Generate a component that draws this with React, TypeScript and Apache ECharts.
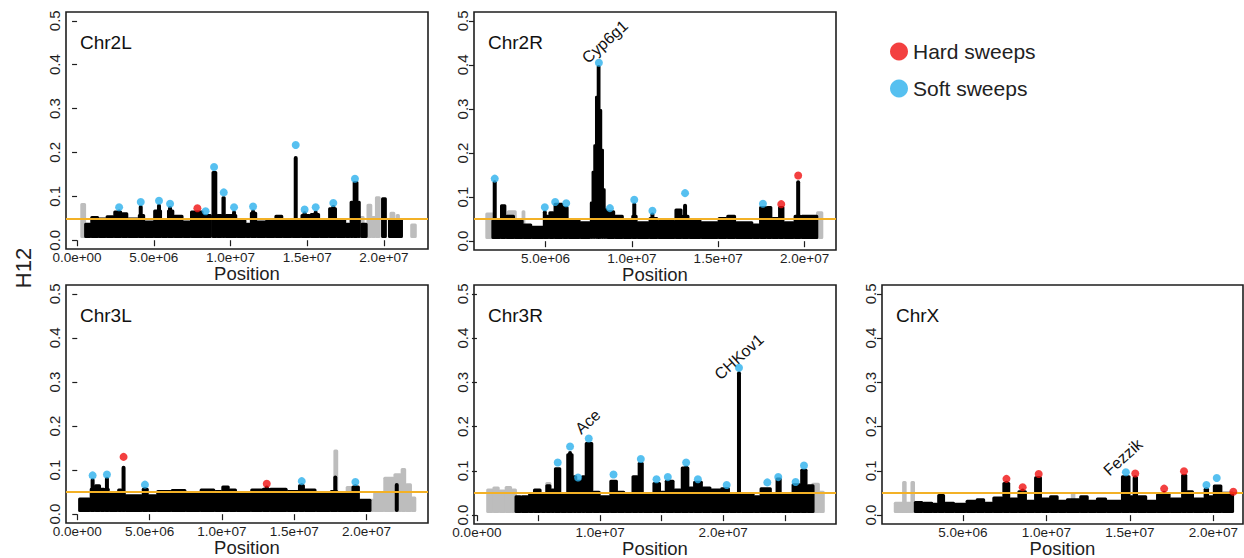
import React, { useEffect, useRef } from "react";
import * as echarts from "echarts";

type Seg = [number, number, number]; // start (Mb), end (Mb), top H12
type Pt = [number, number]; // position (Mb), H12

const H12_FLOOR = 0.005;
const THRESHOLD = 0.05;
const Y_TICKS = [0, 0.1, 0.2, 0.3, 0.4, 0.5];
const LEGEND_NAMES = ["Hard sweeps", "Soft sweeps"];

// ---------- Chr2L ----------
const CHR2L_BLACK: Seg[] = [
  [0.5, 0.9, 0.04], [0.9, 1.4, 0.055], [1.4, 1.9, 0.052], [1.9, 2.4, 0.057], [2.4, 2.9, 0.068],
  [2.9, 3.3, 0.064], [3.3, 4.0, 0.052], [4.0, 4.4, 0.06], [4.4, 5.0, 0.045], [5.0, 5.5, 0.07],
  [5.5, 5.9, 0.05], [5.9, 6.3, 0.07], [6.3, 6.9, 0.058], [6.9, 7.4, 0.045], [7.4, 8.2, 0.068],
  [8.2, 8.75, 0.06], [8.8, 9.1, 0.158], [9.1, 9.45, 0.06], [9.45, 9.65, 0.1], [9.65, 10.4, 0.06],
  [10.4, 11.0, 0.048], [11.0, 11.3, 0.04], [11.3, 11.7, 0.065], [11.7, 12.3, 0.045], [12.3, 12.9, 0.05],
  [12.9, 13.4, 0.058], [13.4, 14.0, 0.05], [14.0, 14.6, 0.05], [14.6, 15.2, 0.06], [15.2, 15.8, 0.062],
  [15.8, 16.4, 0.05], [16.4, 16.9, 0.075], [16.9, 17.5, 0.05], [17.5, 17.8, 0.04], [17.8, 18.0, 0.09],
  [18.0, 18.3, 0.135], [18.3, 18.45, 0.09], [18.5, 18.9, 0.04], [19.85, 20.15, 0.098], [20.3, 21.2, 0.05],
];
const CHR2L_GREY: Seg[] = [
  [0.25, 0.55, 0.085], [18.4, 18.7, 0.055], [18.9, 19.2, 0.083], [19.2, 19.45, 0.055], [19.45, 19.75, 0.1],
  [20.4, 20.7, 0.065], [20.8, 21.0, 0.06], [21.75, 22.1, 0.038],
];
const CHR2L_SPIKES: Pt[] = [
  [2.74, 0.07], [4.15, 0.08], [5.34, 0.083], [6.06, 0.078], [10.23, 0.068], [11.47, 0.07],
  [14.25, 0.192], [14.83, 0.066], [15.55, 0.068], [16.7, 0.08],
];
const CHR2L_HARD: Pt[] = [[7.84, 0.073]];
const CHR2L_SOFT: Pt[] = [
  [2.74, 0.075], [4.15, 0.087], [5.34, 0.09], [6.06, 0.083], [8.38, 0.066], [8.93, 0.167], [9.56, 0.109],
  [10.23, 0.075], [11.47, 0.077], [14.25, 0.217], [14.83, 0.07], [15.55, 0.075], [16.7, 0.085], [18.11, 0.14],
];

// ---------- Chr2R ----------
const CHR2R_BLACK: Seg[] = [
  [1.9, 2.4, 0.05], [2.4, 2.7, 0.084], [2.7, 3.2, 0.06], [3.2, 3.7, 0.05], [3.7, 4.2, 0.04],
  [4.2, 4.9, 0.035], [4.9, 5.2, 0.06], [5.2, 5.5, 0.068], [5.5, 6.0, 0.087], [6.0, 6.3, 0.08],
  [6.3, 7.0, 0.05], [7.0, 7.6, 0.045], [7.6, 7.7, 0.09], [7.7, 7.8, 0.16], [7.8, 7.9, 0.22],
  [7.9, 8.0, 0.33], [8.0, 8.15, 0.4], [8.15, 8.25, 0.3], [8.25, 8.35, 0.21], [8.35, 8.45, 0.12],
  [8.45, 8.55, 0.075], [8.55, 9.0, 0.07], [9.0, 9.5, 0.06], [9.5, 10.0, 0.05], [10.0, 10.3, 0.06],
  [10.3, 11.0, 0.045], [11.0, 11.5, 0.055], [11.5, 12.5, 0.048], [12.5, 12.9, 0.074], [12.9, 13.3, 0.06],
  [13.3, 14.0, 0.05], [14.0, 15.0, 0.045], [15.0, 15.5, 0.055], [15.5, 16.0, 0.06], [16.0, 17.0, 0.045],
  [17.0, 17.4, 0.04], [17.4, 17.8, 0.08], [17.8, 18.1, 0.08], [18.1, 18.5, 0.055], [18.5, 18.8, 0.08],
  [18.8, 19.4, 0.045], [19.4, 19.8, 0.06], [19.8, 20.76, 0.06],
];
const CHR2R_GREY: Seg[] = [[1.55, 2.05, 0.065], [2.8, 3.3, 0.07], [3.65, 3.8, 0.07], [20.7, 21.05, 0.068]];
const CHR2R_SPIKES: Pt[] = [
  [2.06, 0.138], [4.96, 0.07], [6.2, 0.08], [10.14, 0.088], [11.19, 0.065], [13.08, 0.085],
  [17.59, 0.08], [18.65, 0.078], [19.63, 0.138],
];
const CHR2R_HARD: Pt[] = [[18.65, 0.084], [19.63, 0.149]];
const CHR2R_SOFT: Pt[] = [
  [2.06, 0.142], [4.96, 0.077], [5.56, 0.089], [6.2, 0.086], [8.09, 0.405], [8.73, 0.075],
  [10.14, 0.094], [11.19, 0.069], [13.08, 0.109], [17.59, 0.085],
];

// ---------- Chr3L ----------
const CHR3L_BLACK: Seg[] = [
  [0.1, 0.9, 0.038], [0.9, 1.2, 0.06], [1.2, 1.6, 0.068], [1.6, 1.9, 0.06], [1.9, 2.2, 0.06],
  [2.2, 2.8, 0.05], [2.8, 3.1, 0.058], [3.1, 3.3, 0.05], [3.3, 4.5, 0.045], [4.5, 4.9, 0.06],
  [4.9, 5.5, 0.045], [5.5, 6.5, 0.055], [6.5, 7.5, 0.057], [7.5, 8.5, 0.05], [8.5, 9.5, 0.058],
  [9.5, 10.0, 0.055], [10.0, 10.5, 0.065], [10.5, 11.0, 0.058], [11.0, 12.0, 0.05], [12.0, 12.8, 0.058],
  [12.8, 13.3, 0.06], [13.3, 14.5, 0.06], [14.5, 15.3, 0.055], [15.3, 15.7, 0.068], [15.7, 16.5, 0.058],
  [16.5, 17.5, 0.05], [17.5, 18.0, 0.055], [18.0, 19.0, 0.05], [19.0, 19.5, 0.065], [19.5, 20.3, 0.035],
];
const CHR3L_GREY: Seg[] = [
  [17.75, 18.0, 0.147], [18.6, 19.3, 0.064], [20.2, 20.5, 0.035], [20.5, 21.2, 0.05], [21.2, 21.9, 0.085],
  [21.9, 22.4, 0.093], [22.4, 22.7, 0.105], [22.7, 23.1, 0.07], [23.1, 23.4, 0.04],
];
const CHR3L_SPIKES: Pt[] = [
  [1.06, 0.082], [2.05, 0.085], [3.2, 0.11], [4.68, 0.062], [13.1, 0.065], [15.52, 0.07],
  [17.84, 0.088], [19.23, 0.068], [22.09, 0.071],
];
const CHR3L_HARD: Pt[] = [[3.2, 0.13], [13.1, 0.069]];
const CHR3L_SOFT: Pt[] = [[1.06, 0.088], [2.05, 0.09], [4.68, 0.067], [15.52, 0.075], [19.23, 0.073]];

// ---------- Chr3R ----------
const CHR3R_BLACK: Seg[] = [
  [3.1, 3.6, 0.045], [3.6, 4.2, 0.045], [4.2, 4.6, 0.05], [4.6, 5.2, 0.06], [5.2, 5.6, 0.05],
  [5.6, 6.0, 0.07], [6.0, 6.3, 0.06], [6.3, 6.8, 0.108], [6.8, 7.3, 0.05], [7.3, 7.8, 0.14],
  [7.8, 8.1, 0.09], [8.1, 8.5, 0.08], [8.5, 8.8, 0.09], [8.8, 9.4, 0.165], [9.4, 10.0, 0.055],
  [10.0, 10.8, 0.045], [10.8, 11.4, 0.08], [11.4, 12.0, 0.055], [12.0, 12.6, 0.05], [12.6, 13.1, 0.09],
  [13.1, 13.5, 0.12], [13.5, 14.3, 0.05], [14.3, 14.9, 0.075], [14.9, 15.3, 0.055], [15.3, 16.0, 0.08],
  [16.0, 16.6, 0.06], [16.6, 17.2, 0.11], [17.2, 17.6, 0.065], [17.6, 18.3, 0.078], [18.3, 19.0, 0.065],
  [19.0, 19.8, 0.06], [19.8, 20.5, 0.063], [20.5, 21.1, 0.05], [21.1, 21.45, 0.05], [21.45, 22.5, 0.05],
  [22.5, 23.0, 0.045], [23.0, 23.9, 0.063], [23.9, 24.3, 0.05], [24.3, 24.7, 0.085], [24.7, 25.6, 0.05],
  [25.6, 26.3, 0.072], [26.3, 26.8, 0.105], [26.8, 27.37, 0.07],
];
const CHR3R_GREY: Seg[] = [
  [0.8, 1.3, 0.06], [1.3, 1.8, 0.065], [1.8, 2.3, 0.058], [2.3, 2.8, 0.066], [2.8, 3.2, 0.06],
  [5.6, 6.0, 0.075], [27.2, 27.8, 0.073], [27.8, 28.2, 0.055],
];
const CHR3R_SPIKES: Pt[] = [[7.56, 0.145], [13.31, 0.12], [16.99, 0.112], [21.28, 0.325], [20.28, 0.062], [24.47, 0.08]];
const CHR3R_HARD: Pt[] = [];
const CHR3R_SOFT: Pt[] = [
  [6.56, 0.119], [7.56, 0.155], [8.21, 0.085], [9.08, 0.173], [11.09, 0.092], [13.31, 0.127],
  [14.58, 0.081], [15.5, 0.086], [16.99, 0.119], [17.94, 0.081], [20.28, 0.068], [21.28, 0.333],
  [23.58, 0.074], [24.47, 0.086], [25.88, 0.075], [26.56, 0.112],
];

// ---------- ChrX ----------
const CHRX_BLACK: Seg[] = [
  [2.1, 2.6, 0.032], [2.6, 3.2, 0.03], [3.2, 3.5, 0.028], [3.5, 3.9, 0.048], [3.9, 4.5, 0.03],
  [4.5, 5.2, 0.028], [5.2, 5.8, 0.035], [5.8, 6.3, 0.038], [6.3, 6.8, 0.03], [6.8, 7.4, 0.042],
  [7.4, 7.8, 0.075], [7.8, 8.3, 0.04], [8.3, 8.8, 0.056], [8.8, 9.3, 0.035], [9.3, 9.7, 0.088],
  [9.7, 10.2, 0.04], [10.2, 10.7, 0.045], [10.7, 11.2, 0.035], [11.2, 12.0, 0.038], [12.0, 12.5, 0.045],
  [12.5, 13.0, 0.035], [13.0, 13.6, 0.04], [13.6, 14.5, 0.035], [14.5, 15.0, 0.09], [15.0, 15.2, 0.045],
  [15.2, 15.45, 0.088], [15.45, 16.0, 0.045], [16.0, 16.6, 0.035], [16.6, 17.4, 0.05], [17.4, 18.1, 0.04],
  [18.1, 18.4, 0.093], [18.4, 18.8, 0.056], [18.8, 19.45, 0.04], [19.45, 19.7, 0.062], [19.7, 20.0, 0.045],
  [20.0, 20.5, 0.069], [20.5, 21.2, 0.053],
];
const CHRX_GREY: Seg[] = [[0.9, 2.2, 0.03], [1.4, 1.6, 0.077], [1.9, 2.1, 0.077], [11.5, 11.7, 0.05]];
const CHRX_SPIKES: Pt[] = [[7.61, 0.078], [8.58, 0.06], [9.54, 0.088], [14.76, 0.09], [15.32, 0.09], [17.05, 0.055], [18.24, 0.093], [19.58, 0.063]];
const CHRX_HARD: Pt[] = [[7.61, 0.082], [8.58, 0.063], [9.54, 0.093], [15.32, 0.094], [17.05, 0.06], [18.24, 0.099], [21.19, 0.053]];
const CHRX_SOFT: Pt[] = [[14.76, 0.097], [19.58, 0.068], [20.2, 0.084]];

// ---------- x axis ticks (Mb) ----------
const TICKS_2L = [0, 5, 10, 15, 20];
const TICKS_2R = [5, 10, 15, 20];
const TICKS_3L = [0, 5, 10, 15, 20];
const TICKS_3R = [0, 5, 10, 15, 20, 25];
const LABELS_3R = [0, 10, 20];
const TICKS_X = [5, 10, 15, 20];

// ---------- gene annotations ----------
const GENES: { chr: string; gene: string; pos: number; h12: number }[] = [
  { chr: "Chr2R", gene: "Cyp6g1", pos: 8.09, h12: 0.405 },
  { chr: "Chr3R", gene: "Ace", pos: 9.08, h12: 0.173 },
  { chr: "Chr3R", gene: "CHKov1", pos: 21.28, h12: 0.333 },
  { chr: "ChrX", gene: "Fezzik", pos: 14.76, h12: 0.097 },
];

// ---------- styles / layout ----------
const FONT = "'Liberation Sans', Arial, Helvetica, sans-serif";
const INK = "#1e1e1e";
const HARD_COLOR = "#f01010";
const SOFT_COLOR = "#2cb0ec";
const GREY_COLOR = "#bdbdbd";
const ORANGE = "#f3b126";
const GENE_OFFSET: Record<string, [number, number]> = {
  Cyp6g1: [6, -21],
  Ace: [-1, -17],
  CHKov1: [0, -11],
  Fezzik: [-3, -15],
};

const PANELS = [
  { name: "Chr2L", black: CHR2L_BLACK, grey: CHR2L_GREY, spikes: CHR2L_SPIKES, hard: CHR2L_HARD, soft: CHR2L_SOFT,
    xMin: -0.72, xMax: 22.87, ticks: TICKS_2L, labels: TICKS_2L, left: 66, top: 12, width: 362, height: 237 },
  { name: "Chr2R", black: CHR2R_BLACK, grey: CHR2R_GREY, spikes: CHR2R_SPIKES, hard: CHR2R_HARD, soft: CHR2R_SOFT,
    xMin: 0.86, xMax: 21.82, ticks: TICKS_2R, labels: TICKS_2R, left: 474, top: 12, width: 362, height: 238 },
  { name: "Chr3L", black: CHR3L_BLACK, grey: CHR3L_GREY, spikes: CHR3L_SPIKES, hard: CHR3L_HARD, soft: CHR3L_SOFT,
    xMin: -0.78, xMax: 24.25, ticks: TICKS_3L, labels: TICKS_3L, left: 66, top: 285, width: 362, height: 238 },
  { name: "Chr3R", black: CHR3R_BLACK, grey: CHR3R_GREY, spikes: CHR3R_SPIKES, hard: CHR3R_HARD, soft: CHR3R_SOFT,
    xMin: -0.24, xMax: 29.16, ticks: TICKS_3R, labels: LABELS_3R, left: 474, top: 285, width: 362, height: 239 },
  { name: "ChrX", black: CHRX_BLACK, grey: CHRX_GREY, spikes: CHRX_SPIKES, hard: CHRX_HARD, soft: CHRX_SOFT,
    xMin: 0.16, xMax: 21.77, ticks: TICKS_X, labels: TICKS_X, left: 882, top: 285, width: 361, height: 239 },
];

function sci(mb: number): string {
  const v = Math.round(mb * 1e6);
  if (v === 0) return "0.0e+00";
  const e = Math.floor(Math.log10(v) + 1e-9);
  const m = v / Math.pow(10, e);
  return `${m.toFixed(1)}e+${String(e).padStart(2, "0")}`;
}

const segRender = (color: string) => (params: any, api: any) => {
  const s = api.value(0);
  const e = api.value(1);
  const t = api.value(2);
  const p1 = api.coord([s, t]);
  const p2 = api.coord([e, H12_FLOOR]);
  return {
    type: "rect",
    shape: { x: p1[0] - 0.6, y: p1[1], width: p2[0] - p1[0] + 1.2, height: p2[1] - p1[1], r: 1.5 },
    style: { fill: color },
  };
};

const spikeRender = (params: any, api: any) => {
  const x = api.value(0);
  const t = api.value(1);
  const p1 = api.coord([x, t]);
  const p2 = api.coord([x, H12_FLOOR]);
  return {
    type: "rect",
    shape: { x: p1[0] - 2, y: p1[1], width: 4, height: p2[1] - p1[1], r: 2 },
    style: { fill: "#000" },
  };
};

export default function App() {
  const ref = useRef<HTMLDivElement>(null);
  useEffect(() => {
    if (!ref.current) return;
    const chart = echarts.init(ref.current, undefined, { renderer: "svg" });

    const grid: any[] = [];
    const xAxis: any[] = [];
    const yAxis: any[] = [];
    const series: any[] = [];
    const graphic: any[] = [];

    PANELS.forEach((p, i) => {
      grid.push({
        left: p.left, top: p.top, width: p.width, height: p.height,
        show: true, borderColor: INK, borderWidth: 1.6, backgroundColor: "transparent",
        containLabel: false, outerBoundsMode: "none",
      });
      xAxis.push({
        type: "value", gridIndex: i, min: p.xMin, max: p.xMax,
        axisLine: { show: false }, splitLine: { show: false },
        axisTick: { show: true, length: 6, inside: false, customValues: p.ticks, lineStyle: { color: INK, width: 1.2 } },
        axisLabel: { customValues: p.labels, formatter: (v: number) => sci(v), fontSize: 13.5, lineHeight: 13, color: INK, fontFamily: FONT, margin: 2 },
        name: "Position", nameLocation: "middle", nameGap: 24.5, nameMoveOverlap: false,
        nameTextStyle: { fontSize: 18.5, color: INK, fontFamily: FONT, lineHeight: 17, verticalAlign: "middle" },
      });
      yAxis.push({
        type: "value", gridIndex: i, min: -0.02, max: 0.52,
        axisLine: { show: false }, splitLine: { show: false },
        axisTick: { show: true, length: 5, inside: false, customValues: Y_TICKS, lineStyle: { color: INK, width: 1.2 } },
        axisLabel: { customValues: Y_TICKS, rotate: 90, formatter: (v: number) => v.toFixed(1), fontSize: 15, color: INK, fontFamily: FONT, margin: 4 },
      });
      series.push({
        type: "custom", name: p.name + " masked", xAxisIndex: i, yAxisIndex: i, silent: true, z: 1,
        renderItem: segRender(GREY_COLOR), data: p.grey, encode: { x: [0, 1], y: 2 },
      });
      series.push({
        type: "custom", name: p.name + " H12", xAxisIndex: i, yAxisIndex: i, silent: true, z: 2,
        renderItem: segRender("#000"), data: p.black, encode: { x: [0, 1], y: 2 },
      });
      series.push({
        type: "custom", name: p.name + " peaks", xAxisIndex: i, yAxisIndex: i, silent: true, z: 3,
        renderItem: spikeRender, data: p.spikes, encode: { x: 0, y: 1 },
        markLine: {
          silent: true, symbol: "none", z: 4,
          data: [{ yAxis: THRESHOLD }],
          lineStyle: { color: ORANGE, width: 2, type: "solid" },
          label: { show: false },
        },
      });
      series.push({
        type: "scatter", name: "Hard sweeps", xAxisIndex: i, yAxisIndex: i, z: 5,
        data: p.hard, symbolSize: 8, itemStyle: { color: HARD_COLOR }, silent: true,
      });
      series.push({
        type: "scatter", name: "Soft sweeps", xAxisIndex: i, yAxisIndex: i, z: 5,
        data: p.soft, symbolSize: 8, itemStyle: { color: SOFT_COLOR }, silent: true,
      });
      graphic.push({
        type: "text", left: p.left + 14, top: p.top + 21,
        style: { text: p.name, fontSize: 19, fill: "#111", fontFamily: FONT },
      });
    });

    graphic.push({
      type: "text", x: 23, y: 268, rotation: Math.PI / 2,
      style: { text: "H12", fontSize: 22, fill: "#222", fontFamily: FONT, align: "center", verticalAlign: "middle" },
    });

    chart.setOption({
      animation: false,
      backgroundColor: "#fff",
      textStyle: { fontFamily: FONT },
      grid, xAxis, yAxis, series, graphic,
      legend: {
        data: LEGEND_NAMES, orient: "vertical", left: 885, top: 36,
        itemWidth: 18, itemHeight: 18, itemGap: 16, icon: "circle", selectedMode: false,
        textStyle: { fontSize: 21, color: "#222", fontFamily: FONT },
      },
    });

    const geneGraphics = GENES.map((g) => {
      const idx = PANELS.findIndex((p) => p.name === g.chr);
      const px = chart.convertToPixel({ gridIndex: idx }, [g.pos, g.h12]) as number[];
      const off = GENE_OFFSET[g.gene] || [0, -15];
      return {
        type: "text", x: px[0] + off[0], y: px[1] + off[1], rotation: (42 * Math.PI) / 180,
        style: { text: g.gene, fontSize: 16, fill: "#111", fontFamily: FONT, align: "center", verticalAlign: "middle" },
      };
    });
    chart.setOption({ graphic: [...graphic, ...geneGraphics] });

    return () => chart.dispose();
  }, []);
  return (
    <div
      ref={ref}
      style={{ position: "fixed", left: 0, top: 0, width: 1244, height: 558, background: "#fff" }}
    />
  );
}
